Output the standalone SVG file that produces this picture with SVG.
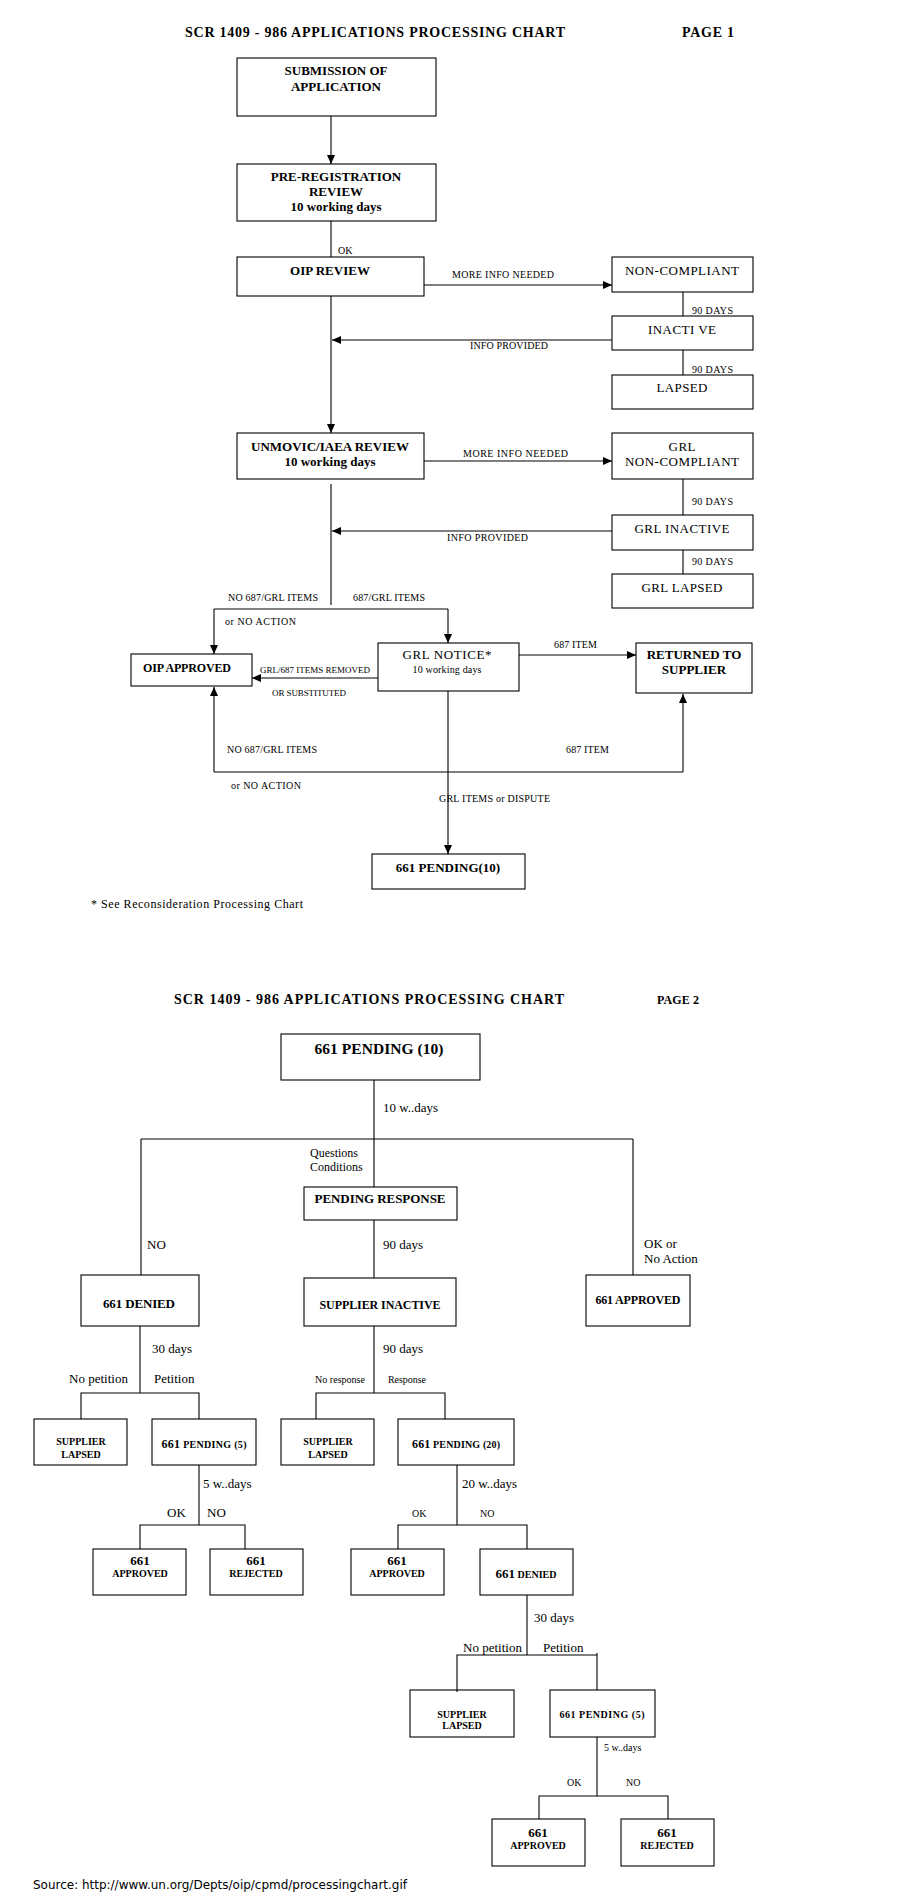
<svg xmlns="http://www.w3.org/2000/svg" width="900" height="1900" viewBox="0 0 900 1900">
<defs>
<style>
rect.n{fill:#fff;stroke:#000;stroke-width:1.1}
.c path,.c line,.c polyline{fill:none;stroke:#000;stroke-width:1.1}
text{font-family:"Liberation Serif","Times New Roman",serif;fill:#000}
.b{font-weight:bold}
.m{text-anchor:middle}
.s10{font-size:10px}
.s9{font-size:9px}
.s12{font-size:12px}
.s13{font-size:13px}
.src{font-family:"DejaVu Sans","Liberation Sans",sans-serif;font-size:12px}
</style>
<marker id="ah" markerWidth="10" markerHeight="8" refX="9" refY="4" orient="auto" markerUnits="userSpaceOnUse">
<path d="M0,0 L9,4 L0,8 Z" fill="#000"/>
</marker>
</defs>
<rect width="900" height="1900" fill="#fff"/>

<!-- PAGE 1 titles -->
<text x="185" y="37" class="b" font-size="14" textLength="380">SCR 1409 - 986 APPLICATIONS PROCESSING CHART</text>
<text x="682" y="37" class="b" font-size="14" textLength="52">PAGE 1</text>

<g id="submission"><rect class="n" x="237" y="58" width="199" height="58"/>
<text x="336" y="75" class="b s13 m">SUBMISSION OF</text><text x="336" y="91" class="b s13 m">APPLICATION</text></g>
<g id="prereg"><rect class="n" x="237" y="164" width="199" height="57"/>
<text x="336" y="181" class="b s13 m">PRE-REGISTRATION</text><text x="336" y="196" class="b s13 m">REVIEW</text><text x="336" y="211" class="b s13 m">10 working days</text></g>
<g id="oip-review"><rect class="n" x="237" y="257" width="187" height="39"/>
<text x="330" y="275" class="b s13 m">OIP REVIEW</text></g>
<g id="non-compliant"><rect class="n" x="612" y="257" width="141" height="35"/>
<text x="682" y="275" class="s13 m" textLength="114">NON-COMPLIANT</text></g>
<g id="inactive"><rect class="n" x="612" y="316" width="141" height="34"/>
<text x="682" y="334" class="s13 m" textLength="68">INACTI VE</text></g>
<g id="lapsed"><rect class="n" x="612" y="375" width="141" height="34"/>
<text x="682" y="392" class="s13 m" textLength="51">LAPSED</text></g>
<g id="unmovic"><rect class="n" x="237" y="433" width="187" height="46"/>
<text x="330" y="451" class="b s13 m">UNMOVIC/IAEA REVIEW</text><text x="330" y="466" class="b s13 m">10 working days</text></g>
<g id="grl-non-compliant"><rect class="n" x="612" y="433" width="141" height="46"/>
<text x="682" y="451" class="s13 m" textLength="27">GRL</text><text x="682" y="466" class="s13 m" textLength="114">NON-COMPLIANT</text></g>
<g id="grl-inactive"><rect class="n" x="612" y="515" width="141" height="35"/>
<text x="682" y="533" class="s13 m" textLength="95">GRL INACTIVE</text></g>
<g id="grl-lapsed"><rect class="n" x="612" y="574" width="141" height="34"/>
<text x="682" y="592" class="s13 m" textLength="81">GRL LAPSED</text></g>
<g id="oip-approved"><rect class="n" x="131" y="654" width="121" height="32"/>
<text x="187" y="672" class="b s12 m" textLength="88">OIP APPROVED</text></g>
<g id="grl-notice"><rect class="n" x="378" y="643" width="141" height="48"/>
<text x="447" y="659" class="s13 m" textLength="89">GRL NOTICE*</text><text x="447" y="673" class="s10 m" textLength="69">10 working days</text></g>
<g id="returned"><rect class="n" x="636" y="643" width="116" height="50"/>
<text x="694" y="659" class="b s13 m">RETURNED TO</text><text x="694" y="674" class="b s13 m">SUPPLIER</text></g>
<g id="pending10"><rect class="n" x="372" y="854" width="153" height="35"/>
<text x="448" y="872" class="b s13 m">661 PENDING(10)</text></g>

<g id="connectors-p1" class="c">
<line x1="331" y1="116" x2="331" y2="164" marker-end="url(#ah)"/>
<line x1="331" y1="221" x2="331" y2="257"/>
<line x1="331" y1="296" x2="331" y2="433" marker-end="url(#ah)"/>
<line x1="424" y1="285" x2="612" y2="285" marker-end="url(#ah)"/>
<line x1="683" y1="292" x2="683" y2="316"/>
<line x1="612" y1="340" x2="332" y2="340" marker-end="url(#ah)"/>
<line x1="683" y1="350" x2="683" y2="375"/>
<line x1="424" y1="461" x2="612" y2="461" marker-end="url(#ah)"/>
<line x1="683" y1="479" x2="683" y2="515"/>
<line x1="683" y1="550" x2="683" y2="574"/>
<line x1="612" y1="531" x2="332" y2="531" marker-end="url(#ah)"/>
<line x1="331" y1="484" x2="331" y2="605"/>
<line x1="214" y1="609" x2="448" y2="609"/>
<line x1="214" y1="609" x2="214" y2="654" marker-end="url(#ah)"/>
<line x1="448" y1="609" x2="448" y2="643" marker-end="url(#ah)"/>
<line x1="378" y1="678" x2="252" y2="678" marker-end="url(#ah)"/>
<line x1="519" y1="655" x2="636" y2="655" marker-end="url(#ah)"/>
<line x1="214" y1="772" x2="683" y2="772"/>
<line x1="214" y1="772" x2="214" y2="687" marker-end="url(#ah)"/>
<line x1="683" y1="772" x2="683" y2="694" marker-end="url(#ah)"/>
<line x1="448" y1="691" x2="448" y2="854" marker-end="url(#ah)"/>
</g>

<g id="labels-p1">
<text x="338" y="254" class="s10">OK</text>
<text x="452" y="278" class="s10" textLength="102">MORE INFO NEEDED</text>
<text x="692" y="314" class="s10" textLength="41">90 DAYS</text>
<text x="470" y="349" class="s10" textLength="78">INFO PROVIDED</text>
<text x="692" y="373" class="s10" textLength="41">90 DAYS</text>
<text x="463" y="457" class="s10" textLength="105">MORE INFO NEEDED</text>
<text x="692" y="505" class="s10" textLength="41">90 DAYS</text>
<text x="447" y="541" class="s10" textLength="81">INFO PROVIDED</text>
<text x="692" y="565" class="s10" textLength="41">90 DAYS</text>
<text x="228" y="601" class="s10" textLength="90">NO 687/GRL ITEMS</text>
<text x="353" y="601" class="s10" textLength="72">687/GRL ITEMS</text>
<text x="225" y="625" class="s10" textLength="71">or NO ACTION</text>
<text x="260" y="673" class="s9" textLength="110">GRL/687 ITEMS REMOVED</text>
<text x="272" y="696" class="s9" textLength="74">OR SUBSTITUTED</text>
<text x="554" y="648" class="s10" textLength="43">687 ITEM</text>
<text x="227" y="753" class="s10" textLength="90">NO 687/GRL ITEMS</text>
<text x="566" y="753" class="s10" textLength="43">687 ITEM</text>
<text x="231" y="789" class="s10" textLength="70">or NO ACTION</text>
<text x="439" y="802" class="s10" textLength="111">GRL ITEMS or DISPUTE</text>
<text x="91" y="908" class="s12" textLength="212">* See Reconsideration Processing Chart</text>
</g>

<!-- PAGE 2 titles -->
<text x="174" y="1004" class="b" font-size="14" textLength="390">SCR 1409 - 986 APPLICATIONS PROCESSING CHART</text>
<text x="657" y="1004" class="b" font-size="12" textLength="42">PAGE 2</text>

<g id="p2-pending10"><rect class="n" x="281" y="1034" width="199" height="46"/>
<text x="379" y="1054" class="b m" font-size="15.5" textLength="129">661 PENDING (10)</text></g>
<g id="p2-pending-response"><rect class="n" x="304" y="1187" width="153" height="33"/>
<text x="380" y="1203" class="b s13 m" textLength="131">PENDING RESPONSE</text></g>
<g id="p2-denied1"><rect class="n" x="81" y="1275" width="118" height="51"/>
<text x="139" y="1308" class="b s13 m" textLength="72">661 DENIED</text></g>
<g id="p2-supplier-inactive"><rect class="n" x="304" y="1278" width="152" height="48"/>
<text x="380" y="1309" class="b s12 m" textLength="121">SUPPLIER INACTIVE</text></g>
<g id="p2-approved-right"><rect class="n" x="586" y="1275" width="104" height="51"/>
<text x="638" y="1304" class="b s12 m" textLength="85">661 APPROVED</text></g>
<g id="p2-lapsed1"><rect class="n" x="34" y="1419" width="93" height="46"/>
<text x="81" y="1445" class="b s10 m">SUPPLIER</text><text x="81" y="1458" class="b s10 m">LAPSED</text></g>
<g id="p2-pending5a"><rect class="n" x="152" y="1419" width="104" height="46"/>
<text x="204" y="1448" class="b s10 m" textLength="85"><tspan font-size="12">661</tspan> PENDING (5)</text></g>
<g id="p2-lapsed2"><rect class="n" x="281" y="1419" width="93" height="46"/>
<text x="328" y="1445" class="b s10 m">SUPPLIER</text><text x="328" y="1458" class="b s10 m">LAPSED</text></g>
<g id="p2-pending20"><rect class="n" x="398" y="1419" width="116" height="46"/>
<text x="456" y="1448" class="b s10 m" textLength="88"><tspan font-size="12">661</tspan> PENDING (20)</text></g>
<g id="p2-approved1"><rect class="n" x="93" y="1549" width="93" height="46"/>
<text x="140" y="1565" class="b s13 m">661</text><text x="140" y="1577" class="b s10 m">APPROVED</text></g>
<g id="p2-rejected1"><rect class="n" x="210" y="1549" width="93" height="46"/>
<text x="256" y="1565" class="b s13 m">661</text><text x="256" y="1577" class="b s10 m">REJECTED</text></g>
<g id="p2-approved2"><rect class="n" x="351" y="1549" width="93" height="46"/>
<text x="397" y="1565" class="b s13 m">661</text><text x="397" y="1577" class="b s10 m">APPROVED</text></g>
<g id="p2-denied2"><rect class="n" x="480" y="1549" width="93" height="46"/>
<text x="526" y="1578" class="b s10 m"><tspan font-size="13">661</tspan> DENIED</text></g>
<g id="p2-lapsed3"><rect class="n" x="410" y="1690" width="104" height="47"/>
<text x="462" y="1718" class="b s10 m">SUPPLIER</text><text x="462" y="1729" class="b s10 m">LAPSED</text></g>
<g id="p2-pending5b"><rect class="n" x="550" y="1690" width="105" height="47"/>
<text x="602" y="1718" class="b s10 m" textLength="85">661 PENDING (5)</text></g>
<g id="p2-approved3"><rect class="n" x="492" y="1819" width="93" height="47"/>
<text x="538" y="1837" class="b s13 m">661</text><text x="538" y="1849" class="b s10 m">APPROVED</text></g>
<g id="p2-rejected3"><rect class="n" x="621" y="1819" width="93" height="47"/>
<text x="667" y="1837" class="b s13 m">661</text><text x="667" y="1849" class="b s10 m">REJECTED</text></g>

<g id="connectors-p2" class="c">
<line x1="374" y1="1080" x2="374" y2="1187"/>
<line x1="141" y1="1139" x2="633" y2="1139"/>
<line x1="141" y1="1139" x2="141" y2="1275"/>
<line x1="633" y1="1139" x2="633" y2="1275"/>
<line x1="374" y1="1220" x2="374" y2="1278"/>
<line x1="140" y1="1326" x2="140" y2="1393"/>
<polyline points="81,1419 81,1393 199,1393 199,1419"/>
<line x1="199" y1="1465" x2="199" y2="1525"/>
<polyline points="140,1549 140,1525 245,1525 245,1549"/>
<line x1="374" y1="1326" x2="374" y2="1393"/>
<polyline points="316,1419 316,1393 445,1393 445,1419"/>
<line x1="457" y1="1465" x2="457" y2="1525"/>
<polyline points="398,1549 398,1525 527,1525 527,1549"/>
<line x1="527" y1="1595" x2="527" y2="1655"/>
<polyline points="457,1692 457,1655 597,1655"/>
<line x1="597" y1="1653" x2="597" y2="1690"/>
<line x1="597" y1="1737" x2="597" y2="1796"/>
<polyline points="539,1819 539,1796 668,1796 668,1819"/>
</g>

<g id="labels-p2">
<text x="383" y="1112" class="s13">10 w..days</text>
<text x="310" y="1157" class="s12">Questions</text>
<text x="310" y="1171" class="s12">Conditions</text>
<text x="383" y="1249" class="s13">90 days</text>
<text x="147" y="1249" class="s13">NO</text>
<text x="644" y="1248" class="s13">OK or</text>
<text x="644" y="1263" class="s13">No Action</text>
<text x="152" y="1353" class="s13">30 days</text>
<text x="69" y="1383" class="s13" textLength="59">No petition</text>
<text x="154" y="1383" class="s13">Petition</text>
<text x="203" y="1488" class="s13">5 w..days</text>
<text x="167" y="1517" class="s13">OK</text>
<text x="207" y="1517" class="s13">NO</text>
<text x="383" y="1353" class="s13">90 days</text>
<text x="315" y="1383" class="s10" textLength="50">No response</text>
<text x="388" y="1383" class="s10" textLength="38">Response</text>
<text x="462" y="1488" class="s13">20 w..days</text>
<text x="412" y="1517" class="s10">OK</text>
<text x="480" y="1517" class="s10">NO</text>
<text x="534" y="1622" class="s13">30 days</text>
<text x="463" y="1652" class="s13" textLength="59">No petition</text>
<text x="543" y="1652" class="s13">Petition</text>
<text x="604" y="1751" class="s10">5 w..days</text>
<text x="567" y="1786" class="s10">OK</text>
<text x="626" y="1786" class="s10">NO</text>
</g>

<text x="33" y="1889" class="src" textLength="374">Source: http://www.un.org/Depts/oip/cpmd/processingchart.gif</text>
</svg>
